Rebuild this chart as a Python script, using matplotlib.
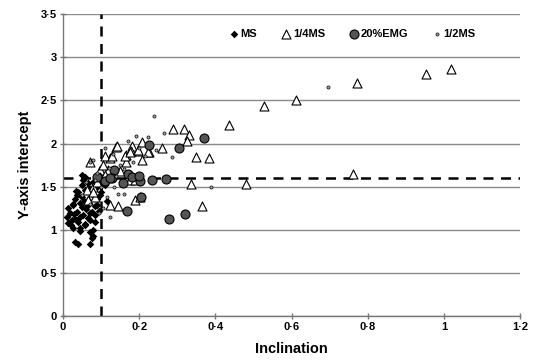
import matplotlib
matplotlib.use('Agg')
import matplotlib.pyplot as plt
from matplotlib.ticker import FuncFormatter, MultipleLocator
import numpy as np

## Data
ms_x = [0.031, 0.040, 0.071, 0.075, 0.080, 0.045, 0.027, 0.023, 0.040, 0.058,
        0.071, 0.018, 0.036, 0.053, 0.075, 0.027, 0.045, 0.062, 0.031, 0.049,
        0.066, 0.040, 0.058, 0.075, 0.049, 0.066, 0.049, 0.058, 0.088, 0.097,
        0.106, 0.101, 0.097, 0.084, 0.010, 0.080, 0.014, 0.045, 0.088, 0.088,
        0.031, 0.071, 0.020, 0.060, 0.035, 0.055, 0.070, 0.090, 0.025, 0.050,
        0.065, 0.085, 0.038, 0.078, 0.012, 0.044, 0.068, 0.095, 0.030, 0.057,
        0.110, 0.115, 0.052, 0.083]
ms_y = [0.86, 0.84, 0.84, 0.90, 0.93, 0.98, 1.02, 1.11, 1.09, 1.05,
        1.11, 1.19, 1.21, 1.17, 1.21, 1.29, 1.31, 1.27, 1.36, 1.38,
        1.34, 1.44, 1.46, 1.42, 1.52, 1.54, 1.63, 1.61, 1.63, 1.575,
        1.61, 1.44, 1.40, 1.09, 1.15, 1.00, 1.25, 1.15, 1.29, 1.50,
        1.12, 0.97, 1.05, 1.24, 1.45, 1.33, 1.20, 1.36, 1.30, 1.26,
        1.14, 1.17, 1.40, 1.55, 1.08, 1.02, 1.48, 1.22, 1.18, 1.07,
        1.52, 1.33, 1.58, 1.28]

quarter_x = [1.018, 0.953, 0.773, 0.611, 0.528, 0.760, 0.436, 0.290, 0.318, 0.332,
             0.325, 0.261, 0.226, 0.207, 0.349, 0.384, 0.336, 0.480, 0.364, 0.208,
             0.180, 0.198, 0.178, 0.165, 0.165, 0.138, 0.123, 0.176, 0.189, 0.141,
             0.071, 0.110, 0.128, 0.097, 0.119, 0.163, 0.176, 0.198, 0.224, 0.123,
             0.144, 0.202, 0.080, 0.062, 0.084, 0.066, 0.097, 0.110, 0.189, 0.078,
             0.090, 0.105, 0.150]
quarter_y = [2.86, 2.80, 2.70, 2.50, 2.44, 1.645, 2.22, 2.17, 2.17, 2.10,
             2.03, 1.95, 1.90, 1.81, 1.84, 1.83, 1.53, 1.53, 1.28, 2.02,
             1.97, 1.91, 1.91, 1.78, 1.87, 1.955, 1.83, 1.58, 1.34, 1.97,
             1.79, 1.85, 1.85, 1.69, 1.69, 1.85, 1.90, 1.92, 1.90, 1.29,
             1.275, 1.38, 1.50, 1.46, 1.38, 1.34, 1.61, 1.63, 1.575, 1.44,
             1.55, 1.75, 1.68]

emg_x = [0.371, 0.319, 0.304, 0.227, 0.202, 0.234, 0.270, 0.205, 0.278, 0.134,
         0.171, 0.180, 0.157, 0.167, 0.200, 0.128, 0.088, 0.110, 0.123]
emg_y = [2.06, 1.18, 1.95, 1.98, 1.56, 1.575, 1.585, 1.38, 1.12, 1.69,
         1.65, 1.615, 1.54, 1.22, 1.62, 1.60, 1.61, 1.56, 1.60]

half_x = [0.696, 0.388, 0.239, 0.265, 0.222, 0.243, 0.285, 0.161, 0.144, 0.134,
          0.191, 0.080, 0.071, 0.123, 0.115, 0.060, 0.090, 0.120, 0.150, 0.100,
          0.070, 0.050, 0.130, 0.170, 0.200, 0.105, 0.085, 0.140, 0.160, 0.110,
          0.095, 0.185, 0.215]
half_y = [2.65, 1.50, 2.32, 2.12, 2.07, 1.92, 1.84, 1.41, 1.42, 1.49,
          2.09, 1.81, 1.78, 1.15, 1.38, 1.55, 1.66, 1.72, 1.75, 1.49,
          1.30, 1.40, 1.88, 2.03, 1.95, 1.25, 1.58, 1.62, 1.70, 1.95,
          1.20, 1.78, 1.85]

x_cut = 0.1
y_cut = 1.6

plt.rcParams['font.family'] = ['Liberation Sans', 'DejaVu Sans']

fig = plt.figure(figsize=(5.34, 3.62), dpi=100)
ax = fig.add_axes([0.118, 0.127, 0.856, 0.834])

## Grid (horizontal only)
ax.set_axisbelow(True)
ax.yaxis.grid(True, color='#8a8a8a', linewidth=1.0)

## Series
ax.scatter(ms_x, ms_y, marker='D', s=15, color='black', linewidths=0, zorder=3, label='MS')
ax.scatter(quarter_x, quarter_y, marker='^', s=42, facecolors='white', edgecolors='black',
           linewidths=0.8, zorder=3, label='1/4MS')
ax.scatter(emg_x, emg_y, marker='o', s=42, facecolors='#555555', edgecolors='black',
           linewidths=0.8, zorder=4, label='20%EMG')
ax.scatter(half_x, half_y, marker='o', s=5, facecolors='#aaaaaa', edgecolors='black',
           linewidths=0.5, zorder=5, label='1/2MS')

## Cut-off lines
ax.axvline(x_cut, color='black', linestyle=(0, (4, 3)), linewidth=1.8, zorder=2)
ax.axhline(y_cut, color='black', linestyle=(0, (4, 3)), linewidth=1.8, zorder=2)

ax.set_xlim(0, 1.2)
ax.set_ylim(0, 3.5)
ax.xaxis.set_major_locator(MultipleLocator(0.2))
ax.yaxis.set_major_locator(MultipleLocator(0.5))

fmt = FuncFormatter(lambda v, p: ('%g' % round(v, 2)).replace('.', '\u00b7'))
ax.xaxis.set_major_formatter(fmt)
ax.yaxis.set_major_formatter(fmt)

for s in ['top', 'right']:
    ax.spines[s].set_visible(False)
for s in ['left', 'bottom']:
    ax.spines[s].set_color('#777777')
    ax.spines[s].set_linewidth(1.0)

ax.tick_params(axis='both', direction='inout', length=5, width=1.0, color='#777777',
               labelsize=8)
for lab in ax.get_xticklabels() + ax.get_yticklabels():
    lab.set_fontweight('bold')
ax.tick_params(axis='x', pad=2)
ax.tick_params(axis='y', pad=2)

ax.set_xlabel('Inclination', fontsize=10.5, fontweight='bold', labelpad=7)
ax.set_ylabel('Y-axis intercept', fontsize=10.5, fontweight='bold', labelpad=6)

leg = ax.legend(loc='upper right', bbox_to_anchor=(0.925, 0.985), ncol=4, frameon=False,
                handletextpad=0.1, columnspacing=2.1, handlelength=1.0,
                prop={'weight': 'bold', 'size': 8})

fig.savefig('out.png', dpi=100)
